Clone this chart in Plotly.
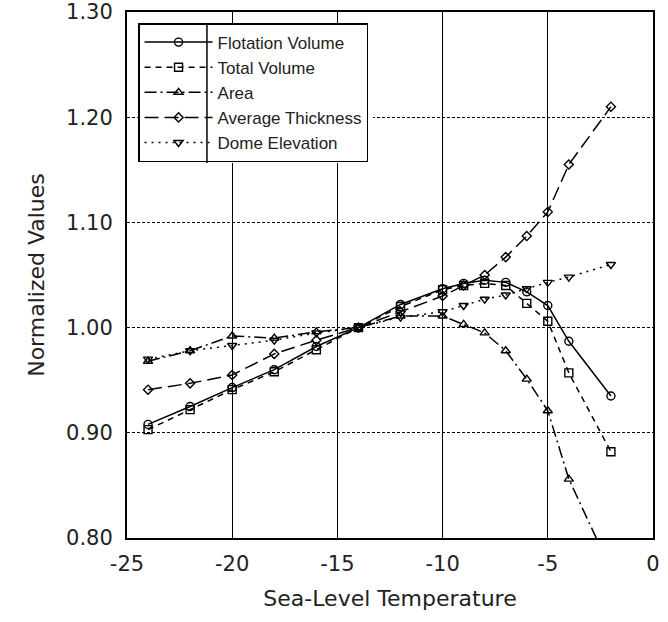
import plotly.graph_objects as go

temps = [-24, -22, -20, -18, -16, -14, -12, -10, -9, -8, -7, -6, -5, -4, -2]

flotation_volume = [0.908, 0.925, 0.943, 0.960, 0.982, 1.000, 1.022, 1.037, 1.042, 1.045, 1.043, 1.034, 1.021, 0.987, 0.935]
total_volume = [0.903, 0.922, 0.941, 0.958, 0.979, 1.000, 1.020, 1.036, 1.040, 1.042, 1.040, 1.023, 1.006, 0.957, 0.882]
area = [0.968, 0.978, 0.992, 0.990, 0.996, 1.000, 1.011, 1.011, 1.003, 0.995, 0.978, 0.951, 0.921, 0.856, 0.770]
average_thickness = [0.941, 0.947, 0.955, 0.975, 0.988, 1.000, 1.015, 1.030, 1.040, 1.050, 1.067, 1.087, 1.110, 1.155, 1.210]
dome_elevation = [0.970, 0.978, 0.983, 0.988, 0.995, 1.000, 1.010, 1.015, 1.021, 1.027, 1.031, 1.037, 1.043, 1.048, 1.060]

series = [
    ("Flotation Volume", flotation_volume, "solid", "circle-open", 8),
    ("Total Volume", total_volume, "6px,5px", "square-open", 8),
    ("Area", area, "12px,4px,2px,4px", "triangle-up-open", 8),
    ("Average Thickness", average_thickness, "14px,6px", "diamond-open", 7),
    ("Dome Elevation", dome_elevation, "2px,5px", "triangle-down-open", 8),
]

x_ticks = [-25, -20, -15, -10, -5, 0]
y_ticks = [0.80, 0.90, 1.00, 1.10, 1.20, 1.30]

fig = go.Figure()
for name, vals, dash, sym, size in series:
    fig.add_trace(go.Scatter(
        x=temps, y=vals, name=name, mode="lines+markers",
        line=dict(color="black", width=1.5, dash=dash),
        marker=dict(symbol=sym, size=size, color="black", line=dict(width=1.4, color="black")),
        cliponaxis=True,
    ))

axis_font = "DejaVu Sans, sans-serif"
legend_font = "Liberation Sans, Arial, sans-serif"

fig.update_layout(
    width=668, height=622,
    margin=dict(l=127, r=15, t=12, b=84, autoexpand=False),
    paper_bgcolor="white", plot_bgcolor="white",
    font=dict(family=axis_font, color="#222222"),
    showlegend=True,
    legend=dict(
        x=0.021, y=0.979, xanchor="left", yanchor="top",
        bgcolor="rgba(0,0,0,0)", bordercolor="black", borderwidth=1.5,
        font=dict(size=17, family=legend_font, color="#222222"),
        itemwidth=68, tracegroupgap=0,
    ),
    xaxis=dict(
        range=[-25, 0], tickvals=x_ticks, ticktext=[str(v) for v in x_ticks],
        showgrid=True, gridcolor="black", gridwidth=1.3,
        showline=True, linecolor="black", linewidth=2, mirror=True,
        ticks="", zeroline=False, automargin=False,
        tickfont=dict(size=21), ticklabelstandoff=6,
        title=dict(text="Sea-Level Temperature", font=dict(size=22)),
    ),
    yaxis=dict(
        range=[0.80, 1.30], tickvals=y_ticks, ticktext=[f"{v:.2f}" for v in y_ticks],
        showgrid=True, gridcolor="black", gridwidth=1.2, griddash="3px,2px",
        showline=True, linecolor="black", linewidth=2, mirror=True,
        ticks="", zeroline=False, automargin=False, ticklabeloverflow="allow",
        tickfont=dict(size=21), ticklabelstandoff=8,
        title=dict(text="Normalized Values", font=dict(size=22)),
    ),
)

# white backing for the legend box and the divider between symbols and labels
fig.add_shape(type="rect", xref="paper", yref="paper", layer="above",
              x0=0.021, x1=0.468, y0=0.713, y1=0.979,
              fillcolor="white", line=dict(width=0))
fig.add_shape(type="line", xref="paper", yref="paper", layer="above",
              x0=0.152, x1=0.152, y0=0.713, y1=0.979,
              line=dict(color="black", width=1.5))

fig.write_html("out.html", config={"displayModeBar": False},
               post_script="document.body.style.margin='0';")
